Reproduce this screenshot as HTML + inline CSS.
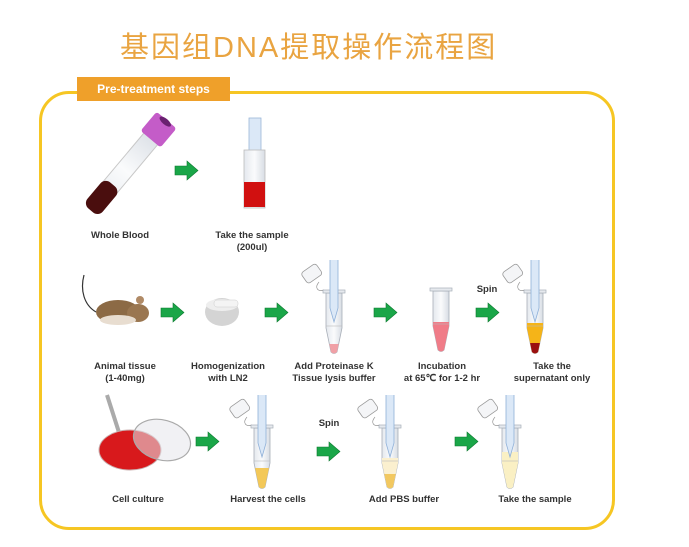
<!DOCTYPE html>
<html><head><meta charset="utf-8"><style>
body{margin:0;width:689px;height:547px;background:#fff;position:relative;overflow:hidden;font-family:"Liberation Sans",Arial,sans-serif}
.t{position:absolute;font-weight:bold;font-size:9.5px;color:#333;text-align:center;line-height:12px;white-space:nowrap;transform:translateX(-50%)}
#title{position:absolute;left:120px;top:24px;font-family:"Liberation Sans","Noto Sans CJK SC",sans-serif;font-size:29px;color:#e9a441;letter-spacing:2px;white-space:nowrap}
#box{position:absolute;left:39px;top:91px;width:570px;height:433px;border:3px solid #f6c623;border-radius:30px}
#lab{position:absolute;left:77px;top:77px;width:153px;height:24px;background:#efa02a;color:#fff;font-weight:bold;font-size:12px;line-height:24px;text-align:center}
svg{position:absolute;left:0;top:0}
</style></head><body>
<div id="title">基因组DNA提取操作流程图</div>
<div id="box"></div>
<div id="lab">Pre-treatment steps</div>
<svg width="689" height="547" id="s">
<defs>
<linearGradient id="gl" x1="0" x2="1"><stop offset="0" stop-color="#e4e8ee"/><stop offset=".5" stop-color="#fafbfc"/><stop offset="1" stop-color="#d8dde4"/></linearGradient>
<g id="arr"><path d="M0,5 H12 V0 L23,9.5 L12,19 V14 H0 Z" fill="#1aa648" stroke="#0d7a30" stroke-width=".6"/></g>
</defs>
<g transform="translate(128,166) rotate(-50)">
<rect x="-55" y="-9" width="100" height="18" rx="8" fill="url(#gl)" stroke="#c8c8c8"/>
<rect x="-58" y="-10" width="34" height="20" rx="7" fill="#4a0e0e"/>
<rect x="35" y="-13" width="25" height="26" rx="3" fill="#c45cc8"/>
<ellipse cx="58" cy="0" rx="3" ry="7" fill="#6a2070"/>
</g>
<use href="#arr" x="175" y="161"/>
<rect x="249" y="118" width="12" height="36" fill="#dbe8f7" stroke="#9bb7d8" stroke-width=".8"/>
<rect x="244" y="150" width="21" height="58" fill="url(#gl)" stroke="#bbb" stroke-width=".8"/>
<rect x="244" y="182" width="21" height="25" fill="#d11010"/>
<g>
<path d="M84,275 C80,290 84,305 96,312" stroke="#333" fill="none" stroke-width="1.2"/>
<ellipse cx="118" cy="312" rx="22" ry="12" fill="#8c6a45"/>
<ellipse cx="138" cy="313" rx="11" ry="9" fill="#9a7650"/>
<ellipse cx="118" cy="320" rx="18" ry="5" fill="#e8ddd0"/>
<circle cx="140" cy="300" r="4" fill="#b08a66"/>
</g>
<use href="#arr" x="161" y="303"/>
<ellipse cx="222" cy="312" rx="17" ry="14" fill="#d4d4d4"/>
<ellipse cx="222" cy="305" rx="16" ry="6" fill="#eee"/>
<rect x="214" y="300" width="24" height="7" rx="3" fill="#f4f4f4" stroke="#ccc" stroke-width=".5"/>
<use href="#arr" x="265" y="303"/>
<use href="#arr" x="374" y="303"/>
<use href="#arr" x="476" y="303"/>
<use href="#arr" x="196" y="432"/>
<use href="#arr" x="317" y="442"/>
<use href="#arr" x="455" y="432"/>
<g id="tubes"></g>
</svg>
<script>
function tube(cx,r,fill,ft,pip,cap,tip){
 let s='';
 if(cap) s+=`<g transform="translate(${cx-22},${r-16}) rotate(-35)"><rect x="-9" y="-7" width="18" height="13" rx="3" fill="#f4f5f7" stroke="#999" stroke-width=".8"/></g><path d="M${cx-15},${r-8} C${cx-20},${r-2} ${cx-16},${r+2} ${cx-10},${r}" fill="none" stroke="#999" stroke-width=".7"/>`;
 let body=`M${cx-8},${r+3} V${r+38} L${cx-3},${r+62} Q${cx},${r+65} ${cx+3},${r+62} L${cx+8},${r+38} V${r+3} Z`;
 s+=`<path d="${body}" fill="url(#gl)" stroke="#a9afb8" stroke-width=".8"/>`;
 if(fill){s+=`<clipPath id="c${cx}${r}"><path d="${body}"/></clipPath><rect x="${cx-9}" y="${ft}" width="18" height="80" fill="${fill}" clip-path="url(#c${cx}${r})"/>`;}
 if(tip){s+=`<rect x="${cx-9}" y="${tip[0]}" width="18" height="80" fill="${tip[1]}" clip-path="url(#c${cx}${r})"/>`;}
 s+=`<rect x="${cx-11}" y="${r}" width="22" height="3" fill="#e6e9ee" stroke="#a9afb8" stroke-width=".7"/><line x1="${cx-8}" y1="${r+36}" x2="${cx+8}" y2="${r+36}" stroke="#bbb" stroke-width=".6"/>`;
 if(pip) s+=`<path d="M${cx-4},${r-30} V${r+18} L${cx},${r+32} L${cx+4},${r+18} V${r-30}" fill="#dbe8f7" stroke="#8fb0d8" stroke-width=".8"/>`;
 return s;
}
document.getElementById('tubes').innerHTML=
 tube(334,290,'#f0a0a6',344,1,1)+
 tube(441,288,'#f07c88',322,0,0)+
 tube(535,290,'#f5b418',323,1,1,[343,'#9a1010'])+
 tube(262,425,'#f3c858',468,1,1)+
 tube(390,425,'#fbf0cf',458,1,1,[474,'#f2c860'])+
 tube(510,425,'#faf0c4',452,1,1);
</script>
<svg width="689" height="547" style="pointer-events:none">
<path d="M107,395 L124,448" stroke="#aaa" stroke-width="4"/>
<ellipse cx="130" cy="450" rx="31" ry="20" fill="#d8191c" stroke="#c9b0b0"/>
<ellipse cx="162" cy="440" rx="29" ry="20" fill="rgba(230,230,235,.55)" stroke="#aaa" stroke-width="1.2" transform="rotate(15 162 440)"/>
</svg>
<div class="t" style="left:120px;top:230px">Whole Blood</div>
<div class="t" style="left:252px;top:230px">Take the sample<br>(200ul)</div>
<div class="t" style="left:125px;top:361px">Animal tissue<br>(1-40mg)</div>
<div class="t" style="left:228px;top:361px">Homogenization<br>with LN2</div>
<div class="t" style="left:334px;top:361px">Add Proteinase K<br>Tissue lysis buffer</div>
<div class="t" style="left:442px;top:361px">Incubation<br>at 65℃ for 1-2 hr</div>
<div class="t" style="left:552px;top:361px">Take the<br>supernatant only</div>
<div class="t" style="left:487px;top:284px">Spin</div>
<div class="t" style="left:138px;top:494px">Cell culture</div>
<div class="t" style="left:268px;top:494px">Harvest the cells</div>
<div class="t" style="left:329px;top:418px">Spin</div>
<div class="t" style="left:404px;top:494px">Add PBS buffer</div>
<div class="t" style="left:535px;top:494px">Take the sample</div>
</body></html>
